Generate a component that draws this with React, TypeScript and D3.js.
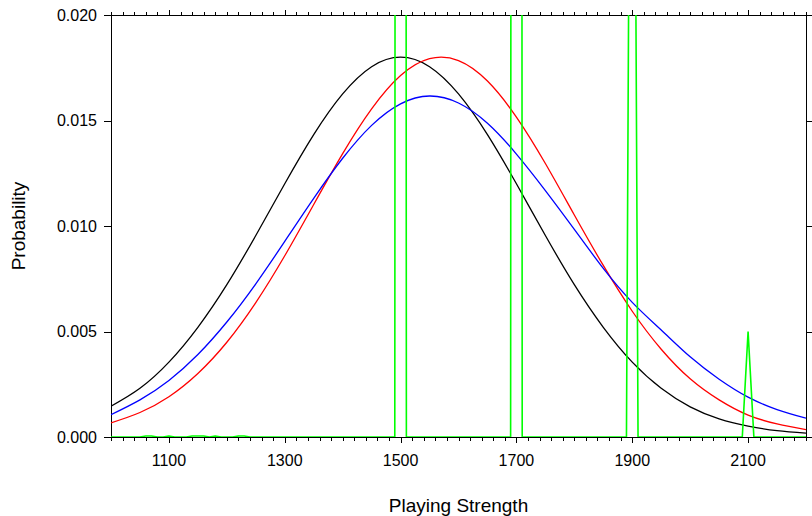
import React from "react";
import * as d3 from "d3";

const strength = [1000, 1050, 1100, 1150, 1200, 1250, 1300, 1350, 1400, 1450, 1500, 1550, 1600, 1650, 1700, 1750, 1800, 1850, 1900, 1950, 2000, 2050, 2100, 2150, 2200];
const blackProb = [0.00146, 0.00231, 0.00355, 0.0052, 0.00722, 0.00955, 0.012, 0.01433, 0.01626, 0.01755, 0.018, 0.01755, 0.01626, 0.01433, 0.012, 0.00955, 0.00722, 0.0052, 0.00355, 0.00231, 0.00143, 0.00086, 0.00052, 0.0003, 0.00018];
const redProb = [0.00067, 0.00116, 0.00191, 0.00301, 0.00449, 0.00637, 0.00859, 0.01102, 0.01343, 0.01555, 0.01713, 0.01793, 0.01784, 0.01687, 0.01516, 0.01296, 0.01052, 0.00813, 0.00596, 0.00416, 0.00276, 0.00176, 0.00104, 0.00062, 0.00035];
const blueProb = [0.00106, 0.00176, 0.00268, 0.00391, 0.00545, 0.00726, 0.00927, 0.01131, 0.01321, 0.01477, 0.01579, 0.01616, 0.01583, 0.01487, 0.01341, 0.01168, 0.00984, 0.00799, 0.00638, 0.00507, 0.0038, 0.00274, 0.00189, 0.0013, 0.00089];

const greenStrength = [1000, 1050, 1060, 1070, 1080, 1090, 1100, 1110, 1130, 1140, 1150, 1160, 1170, 1180, 1190, 1210, 1220, 1230, 1240, 1490, 1500, 1510, 1690, 1700, 1710, 1890, 1900, 1910, 2090, 2100, 2110, 2200];
const greenProb = [0, 0, 0.00005, 0.00005, 0, 0, 0.00005, 0, 0, 0.00005, 0.00005, 0.00005, 0, 0.00005, 0, 0, 0.00005, 0.00005, 0, 0, 0.5, 0, 0, 0.5, 0, 0, 0.055, 0, 0, 0.005, 0, 0];

const xLabels = [1100, 1300, 1500, 1700, 1900, 2100];
const yTicks = [0, 0.005, 0.01, 0.015, 0.02];

const W = 812, H = 516;
const L = 111, R = 806, T = 15, B = 437;
const FONT = "'Liberation Sans', Arial, sans-serif";

export default function App() {
  const x = d3.scaleLinear().domain([1000, 2200]).range([L, R]);
  const y = d3.scaleLinear().domain([0, 0.02]).range([B, T]);
  const minor = d3.range(1000, 2201, 20);
  const fmt = d3.format(".3f");

  const mk = (vals: number[]) =>
    d3.line<number>().x((_, i) => x(strength[i])).y((d) => y(d)).curve(d3.curveNatural)(vals) || "";
  const greenPath =
    d3.line<number>().x((_, i) => x(greenStrength[i])).y((d) => y(d))(greenProb) || "";

  return (
    <svg width={W} height={H} style={{ position: "absolute", left: 0, top: 0, display: "block", background: "#fff" }}>
      <defs>
        <clipPath id="plot">
          <rect x={L} y={T} width={R - L} height={B - T} />
        </clipPath>
      </defs>
      <rect x={0} y={0} width={W} height={H} fill="#fff" />
      <g shapeRendering="crispEdges" stroke="#000" strokeWidth={1}>
        <line x1={L} x2={R} y1={B + 0.5} y2={B + 0.5} />
        <line x1={L} x2={R} y1={T + 0.5} y2={T + 0.5} />
        <line x1={L + 0.5} x2={L + 0.5} y1={T} y2={B} />
        <line x1={R + 0.5} x2={R + 0.5} y1={T} y2={B + 1} />
        {minor.map((v) => {
          const major = (v - 1100) % 200 === 0;
          const px = Math.round(x(v)) + 0.5;
          return (
            <g key={v}>
              <line x1={px} x2={px} y1={B} y2={B + (major ? 6 : 4)} />
              <line x1={px} x2={px} y1={T} y2={T - (major ? 5 : 3)} />
            </g>
          );
        })}
        {yTicks.map((v) => {
          const py = Math.round(y(v)) + 0.5;
          return (
            <g key={v}>
              <line x1={L - 7} x2={L} y1={py} y2={py} />
              <line x1={R} x2={R + 6} y1={py} y2={py} />
            </g>
          );
        })}
      </g>
      <g fontFamily={FONT} fontSize={16} fill="#000">
        {yTicks.map((v) => (
          <text key={v} x={L - 14} y={y(v)} textAnchor="end" dominantBaseline="central">
            {fmt(v)}
          </text>
        ))}
        {xLabels.map((v) => (
          <text key={v} x={x(v)} y={466} textAnchor="middle">
            {v}
          </text>
        ))}
      </g>
      <text x={(L + R) / 2} y={512} textAnchor="middle" fontFamily={FONT} fontSize={19}>
        Playing Strength
      </text>
      <text
        transform={`translate(25, ${(T + B) / 2}) rotate(-90)`}
        textAnchor="middle"
        fontFamily={FONT}
        fontSize={19}
      >
        Probability
      </text>
      <g clipPath="url(#plot)" fill="none" strokeWidth={1.3}>
        <path d={mk(blackProb)} stroke="#000" />
        <path d={mk(redProb)} stroke="#ff0000" />
        <path d={mk(blueProb)} stroke="#0000ff" />
      </g>
      <g clipPath="url(#plot)" fill="none">
        <path d={greenPath} stroke="#00ff00" strokeWidth={1.6} />
      </g>
    </svg>
  );
}
